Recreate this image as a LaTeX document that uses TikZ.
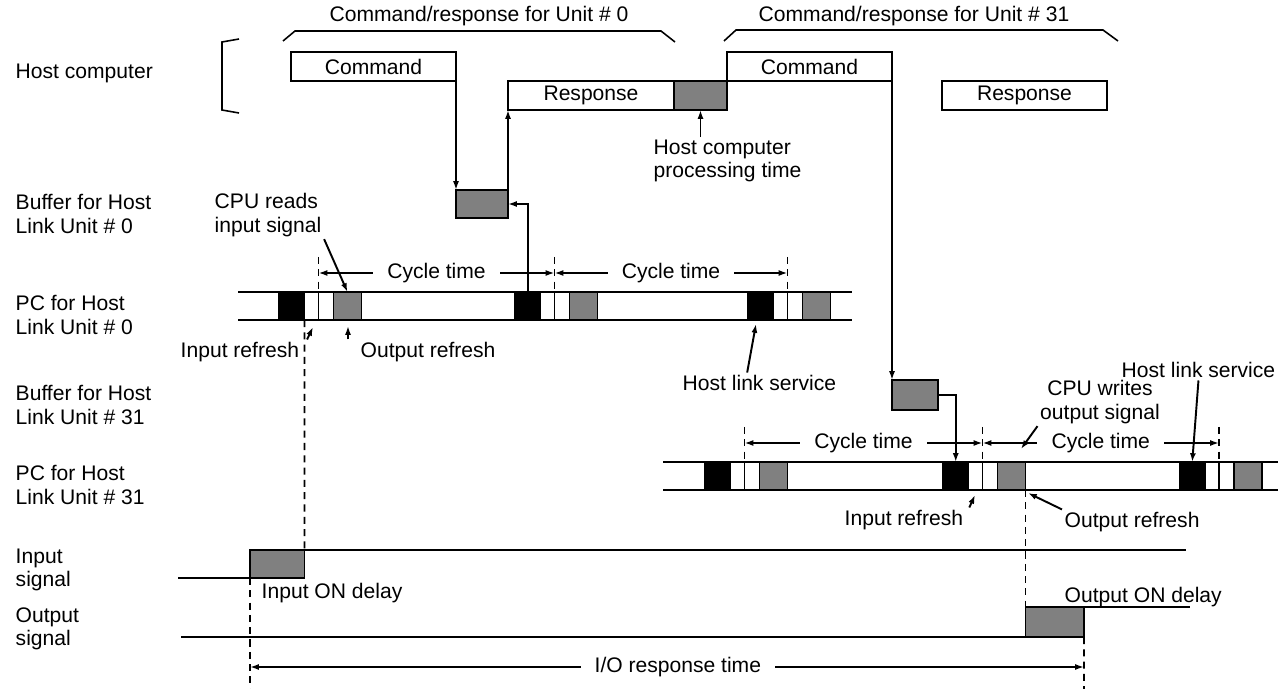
\documentclass[tikz,border=0pt]{standalone}
\usepackage{fontspec}
\setmainfont{Liberation Sans}
\usetikzlibrary{arrows.meta, fit, positioning}

\begin{document}
\begin{tikzpicture}[
        x=0.02cm, y=-0.02cm, line width=1.1pt,
        txt/.style={font=\fontsize{12}{13.2}\selectfont, inner sep=1pt, align=left},
        box/.style={draw, fill=white, inner sep=0pt, outer sep=0pt},
        busy/.style={box, fill=black!50},
        hls/.style={box, fill=black},
        frame/.style={line width=0.9pt},
        tick/.style={dash pattern=on 4pt off 3pt},
        arr/.style={-{Latex[length=5pt, width=3.4pt]}},
        dim/.style={{Latex[length=5pt, width=3.4pt]}-{Latex[length=5pt, width=3.4pt]}},
        cyc/.style={txt, midway, fill=white, inner xsep=8pt}
    ]
    \useasboundingbox (0,0) rectangle (1286,689);

    % row labels
    \node[txt, anchor=west] (lb-host) at (13,73) {Host computer};
    \node[txt, anchor=west] (lb-buf0) at (13,214) {Buffer for Host\\Link Unit \# 0};
    \node[txt, anchor=west] (lb-pc0) at (13,315) {PC for Host\\Link Unit \# 0};
    \node[txt, anchor=west] (lb-buf1) at (13,405) {Buffer for Host\\Link Unit \# 31};
    \node[txt, anchor=west] (lb-pc1) at (13,485) {PC for Host\\Link Unit \# 31};
    \node[txt, anchor=west] (lb-in) at (13,570) {Input\\signal};
    \node[txt, anchor=west] (lb-out) at (13,629) {Output\\signal};

    \draw[frame] (239,39) -- (222,42) -- (222,110) -- (239,113);
    \draw[frame] (283,41) -- (295,31) -- (661,31) -- (675,42);
    \draw[frame] (724,41) -- (736,30) -- (1103,30) -- (1118,41);
    \node[txt] (cr0) at (479,16) {Command/response for Unit \# 0};
    \node[txt] (cr1) at (914,16) {Command/response for Unit \# 31};

    % host computer
    \node[box, fit={(291,52) (456,81)}, label={[txt]center:Command}] (cmd0) {};
    \node[box, fit={(508,81) (674,110)}, label={[txt]center:Response}] (rsp0) {};
    \node[busy, fit={(674,81) (727,110)}] (proc0) {};
    \node[box, fit={(727,52) (892,81)}, label={[txt]center:Command}] (cmd1) {};
    \node[box, fit={(942,81) (1107,110)}, label={[txt]center:Response}] (rsp1) {};
    \node[txt, anchor=west] (hpt) at (651,161) {Host computer\\processing time};
    \draw[arr] (hpt.north -| proc0.south) -- (proc0.south);

    % buffers
    \node[busy, fit={(456,190) (508,218)}] (buf0) {};
    \node[busy, fit={(892,380) (938,410)}] (buf1) {};

    % PC for Host Link Unit # 0
    \draw (238,292) -- (852,292) (238,320) -- (852,320);
    \foreach \x [count=\i] in {279,515,748} {
        \node[hls, fit={(\x,292) (\x+25.5,320)}] (pcA-blk\i) {};
        \draw (\x+39.5,292) -- (\x+39.5,320);
        \draw[tick] (\x+39.5,257) -- (\x+39.5,292);
        \coordinate (pcA-t\i) at (\x+39.5,273);
        \node[busy, fit={(\x+54.5,292) (\x+82.5,320)}] (pcA-gr\i) {};
    }
    \draw[dim] (pcA-t1) -- (pcA-t2) node[cyc] (cycA1) {Cycle time};
    \draw[dim] (pcA-t2) -- (pcA-t3) node[cyc] (cycA2) {Cycle time};

    % PC for Host Link Unit # 31
    \draw (663,462) -- (1278,462) (663,490) -- (1278,490);
    \foreach \x [count=\i] in {705,943,1179.5} {
        \node[hls, fit={(\x,462) (\x+25.5,490)}] (pcB-blk\i) {};
        \draw (\x+39.5,462) -- (\x+39.5,490);
        \draw[tick] (\x+39.5,427) -- (\x+39.5,462);
        \coordinate (pcB-t\i) at (\x+39.5,443);
        \node[busy, fit={(\x+54.5,462) (\x+82.5,490)}] (pcB-gr\i) {};
    }
    \draw[dim] (pcB-t1) -- (pcB-t2) node[cyc] (cycB1) {Cycle time};
    \draw[dim] (pcB-t2) -- (pcB-t3) node[cyc] (cycB2) {Cycle time};

    % command / response flow
    \draw[arr] (cmd0.south east) -- (buf0.north west);
    \draw[arr] (pcA-blk2.north) |- (buf0.east);
    \draw[arr] (buf0.north east) -- (rsp0.south west);
    \draw[arr] (cmd1.south east) -- (buf1.north west);
    \draw[arr] (buf1.east) -| (pcB-blk2.north);

    % annotations
    \node[txt, anchor=west] (cpurd) at (212,215) {CPU reads\\input signal};
    \draw[arr] (cpurd.south east) -- (pcA-gr1.north);
    \node[txt, anchor=west] (inref0) at (178,352) {Input refresh};
    \coordinate (ir0-tip) at (313,327);
    \draw[arr] ([xshift=3pt]inref0.north east) -- (ir0-tip);
    \node[txt, anchor=west] (outref0) at (358,352) {Output refresh};
    \coordinate (or0-tip) at (348,326);
    \draw[arr] (outref0.north west -| or0-tip) -- (or0-tip);
    \node[txt, anchor=west] (hls0) at (680,383) {Host link service};
    \coordinate (hl0-tip) at (756,324);
    \draw[arr] ([xshift=-7pt]hls0.north) -- (hl0-tip);

    \node[txt, align=center] (cpuwr) at (1100,402) {CPU writes\\output signal};
    \coordinate (cw-tip) at (1021,449);
    \draw[arr] (cpuwr.south west) -- (cw-tip);
    \node[txt, anchor=west] (hls1) at (1119,370) {Host link service};
    \draw[arr] (hls1.south) -- (pcB-blk3.north);
    \node[txt, anchor=west] (inref1) at (842,520) {Input refresh};
    \coordinate (ir1-tip) at (975,495);
    \draw[arr] ([xshift=2pt]inref1.north east) -- (ir1-tip);
    \node[txt, anchor=west] (outref1) at (1062,522) {Output refresh};
    \coordinate (or1-tip) at (1028,493);
    \draw[arr] (outref1.north west) -- (or1-tip);

    % input / output signals
    \node[busy, fit={(250,550) (304.5,578)}] (in-dly) {};
    \node[busy, fit={(1025.5,607) (1084,637)}] (out-dly) {};
    \coordinate (in-lo) at (178,578);
    \coordinate (in-hi) at (1186,550);
    \coordinate (out-lo) at (181,637);
    \coordinate (out-hi) at (1190,607);
    \draw (in-lo) -- (in-dly.south west) (in-dly.north east) -- (in-hi);
    \draw (out-lo) -- (out-dly.south west) (out-dly.north east) -- (out-hi);
    \node[txt, anchor=west] (in-lbl) at (259,593) {Input ON delay};
    \node[txt, anchor=west] (out-lbl) at (1062,597) {Output ON delay};

    % I/O response time
    \coordinate (io-l) at (250,667);
    \coordinate (io-r) at (1084,667);
    \coordinate (io-lend) at (250,689);
    \coordinate (io-rend) at (1084,689);
    \draw[tick] (pcA-blk1.south east) -- (in-dly.north east);
    \draw[tick] (in-dly.south west) -- (io-lend);
    \draw[tick] (pcB-gr2.south east) -- (out-dly.north west);
    \draw[tick] (out-dly.south east) -- (io-rend);
    \draw[dim] (io-l) -- (io-r) node[cyc, pos=0.513] (io-txt) {I/O response time};
\end{tikzpicture}
\end{document}
